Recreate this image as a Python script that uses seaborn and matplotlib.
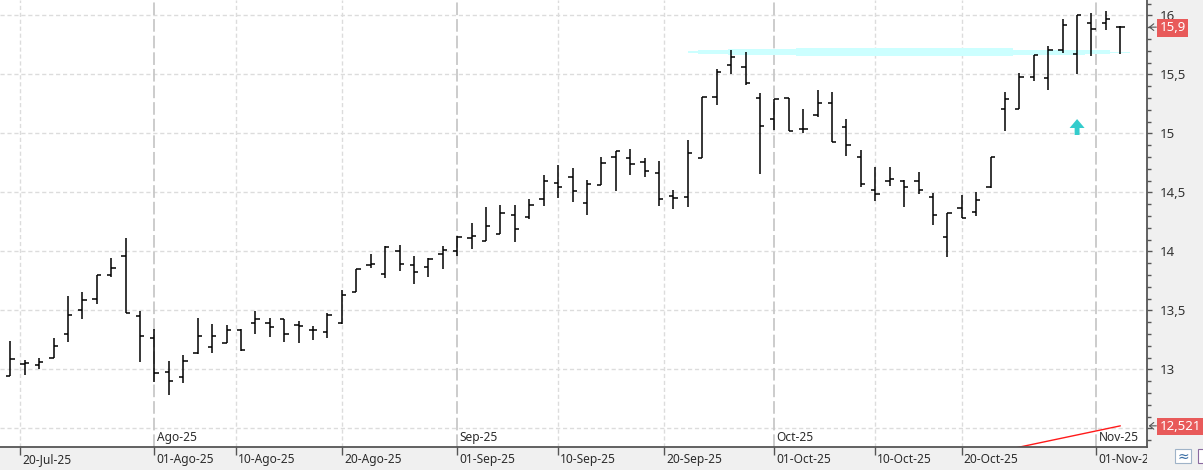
import numpy as np
import pandas as pd
import matplotlib
matplotlib.use("Agg")
import matplotlib.pyplot as plt
import seaborn as sns
from matplotlib.patches import Rectangle, Polygon
from matplotlib.transforms import blended_transform_factory, Bbox, TransformedBbox
import matplotlib.ticker as mticker

# ---------------- data ----------------
start_date = "2025-07-17"
opens = [12.90, 12.946, 13.042, 13.034, 13.093, 13.299, 13.500, 13.593, 13.799, 13.958,
         13.454, 13.263, 12.977, 12.932, 13.141, 13.186, 13.223, 13.333, 13.390, 13.390,
         13.424, 13.375, 13.331, 13.314, 13.395, 13.658, 13.881, 13.805, 14.000, 13.881,
         13.867, 13.975, 14.003, 14.110, 14.085, 14.149, 14.305, 14.293, 14.441, 14.576,
         14.627, 14.409, 14.559, 14.797, 14.791, 14.754, 14.661, 14.469, 14.460, 14.793,
         15.305, 15.579, 15.559, 15.297, 15.119, 15.299, 15.039, 15.155, 15.254, 15.051,
         14.797, 14.519, 14.596, 14.598, 14.596, 14.458, 14.121, 14.367, 14.331, 14.548,
         15.206, 15.206, 15.475, 15.466, 15.703, 15.672, 15.932, 15.932, 15.90]
highs = [12.95, 13.240, 13.079, 13.093, 13.263, 13.621, 13.655, 13.799, 13.941, 14.110,
         13.494, 13.339, 13.070, 13.121, 13.432, 13.384, 13.375, 13.339, 13.494, 13.432,
         13.424, 13.409, 13.367, 13.475, 13.672, 13.850, 13.975, 14.042, 14.051, 13.958,
         13.941, 14.045, 14.130, 14.240, 14.376, 14.392, 14.392, 14.441, 14.647, 14.731,
         14.703, 14.604, 14.797, 14.850, 14.867, 14.788, 14.763, 14.522, 14.943, 15.305,
         15.545, 15.706, 15.689, 15.344, 15.288, 15.302, 15.206, 15.367, 15.350, 15.119,
         14.858, 14.712, 14.712, 14.604, 14.672, 14.497, 14.322, 14.477, 14.503, 14.802,
         15.350, 15.511, 15.664, 15.740, 15.969, 16.003, 16.020, 16.036, 15.909]
lows = [12.80, 12.946, 12.952, 13.003, 13.093, 13.234, 13.429, 13.556, 13.785, 13.475,
        13.064, 12.895, 12.782, 12.887, 13.127, 13.141, 13.223, 13.158, 13.302, 13.270,
        13.234, 13.220, 13.251, 13.268, 13.381, 13.658, 13.861, 13.776, 13.836, 13.723,
        13.785, 13.850, 13.963, 14.020, 14.085, 14.149, 14.081, 14.276, 14.386, 14.454,
        14.420, 14.310, 14.559, 14.514, 14.649, 14.627, 14.384, 14.356, 14.378, 14.788,
        15.240, 15.503, 15.407, 14.655, 15.028, 15.017, 15.005, 15.136, 14.924, 14.810,
        14.548, 14.429, 14.556, 14.378, 14.488, 14.226, 13.954, 14.282, 14.302, 14.534,
        15.022, 15.206, 15.446, 15.370, 15.683, 15.505, 15.658, 15.878, 15.675]
closes = [12.84, 13.087, 13.053, 13.059, 13.195, 13.460, 13.585, 13.799, 13.856, 13.475,
          13.280, 12.969, 12.901, 13.070, 13.280, 13.280, 13.331, 13.166, 13.424, 13.356,
          13.297, 13.367, 13.331, 13.460, 13.627, 13.850, 13.895, 14.037, 13.890, 13.822,
          13.935, 14.011, 14.121, 14.132, 14.212, 14.322, 14.187, 14.390, 14.593, 14.542,
          14.508, 14.570, 14.746, 14.850, 14.737, 14.678, 14.443, 14.449, 14.836, 15.305,
          15.517, 15.649, 15.424, 15.064, 15.288, 15.017, 15.039, 15.254, 14.924, 14.898,
          14.573, 14.483, 14.610, 14.542, 14.517, 14.305, 14.322, 14.282, 14.432, 14.797,
          15.288, 15.475, 15.661, 15.703, 15.915, 16.003, 15.881, 15.966, 15.90]

date_tick_dates = ["2025-07-20", "2025-08-01", "2025-08-10", "2025-08-20", "2025-09-01",
                   "2025-09-10", "2025-09-20", "2025-10-01", "2025-10-10", "2025-10-20",
                   "2025-11-01"]
date_tick_labels = ["20-Jul-25", "01-Ago-25", "10-Ago-25", "20-Ago-25", "01-Sep-25",
                    "10-Sep-25", "20-Sep-25", "01-Oct-25", "10-Oct-25", "20-Oct-25",
                    "01-Nov-25"]
month_dates = ["2025-08-01", "2025-09-01", "2025-10-01", "2025-11-01"]
month_labels = ["Ago-25", "Sep-25", "Oct-25", "Nov-25"]
y_label_values = [13.0, 13.5, 14.0, 14.5, 15.0, 15.5, 16.0]

last_price = 15.9
last_price_label = "15,9"
indicator_x = [68, 78]
indicator_y = [12.264, 12.521]
indicator_label = "12,521"
resistance_level = 15.689
signal_bar = 75
signal_low, signal_high = 14.986, 15.121

# ---------------- style ----------------
sns.set_theme(style="white")
plt.rcParams["font.family"] = ["Noto Sans", "DejaVu Sans"]

W, H = 1203, 470
fig = plt.figure(figsize=(W / 100, H / 100), dpi=100, facecolor="#f0f0f0")
ax_left_px, ax_right_px, ax_bottom_px = 0, 1147, 23.5
ax = fig.add_axes([ax_left_px / W, ax_bottom_px / H,
                   (ax_right_px - ax_left_px) / W, (H - ax_bottom_px) / H])
ax.set_facecolor("white")

dates = pd.bdate_range(start_date, periods=len(closes))
x = np.arange(len(closes))


def date_pos(d):
    d = pd.Timestamp(d)
    i = dates.searchsorted(d)
    if i < len(dates) and dates[i] == d:
        return float(i)
    prev, nxt = dates[i - 1], dates[i]
    return i - 1 + (d - prev).days / (nxt - prev).days


tick_pos = [date_pos(d) for d in date_tick_dates]
month_pos = [date_pos(d) for d in month_dates]

ax.set_xlim(0.284, 79.85)
ax.set_ylim(12.346, 16.13)

# grid
for v in np.arange(12.5, 16.01, 0.5):
    ax.axhline(v, color="#dcdcdc", lw=1.0, ls=(0, (3, 2)), zorder=0)
for p in tick_pos:
    if p not in month_pos:
        ax.axvline(p, color="#dcdcdc", lw=1.0, ls=(0, (3, 2)), zorder=0)
for p in month_pos:
    ax.axvline(p, color="#c8c8c8", lw=1.3, ls=(0, (7, 2.2)), zorder=0)

# resistance highlight band (cyan)
seg_edges = [48.0, 48.7, 50.8, 55.5, 70.55, 75.55, 77.3, 78.67]
seg_half = [0.0085, 0.017, 0.025, 0.031, 0.021, 0.016, 0.0064]
seg_shift = [0.0, 0.0, 0.0, 0.0, 0.0, 0.001, -0.002]
for i in range(len(seg_half)):
    c = resistance_level + seg_shift[i]
    ax.fill_between([seg_edges[i], seg_edges[i + 1]], c - seg_half[i], c + seg_half[i],
                    color="#ccffff", lw=0, zorder=1)

# OHLC bars
tw = 0.3
ax.vlines(x, lows, highs, color="black", lw=1.1, zorder=3)
ax.hlines(opens, x - tw, x, color="black", lw=1.1, zorder=3)
ax.hlines(closes, x, x + tw, color="black", lw=1.1, zorder=3)

# indicator line
sns.lineplot(x=indicator_x, y=indicator_y, ax=ax, color="#ff1a1a", lw=1.0, zorder=2)

# signal arrow
sx = signal_bar
head_base = signal_low + (signal_high - signal_low) * 0.44
arrow = Polygon([(sx - 0.17, signal_low), (sx + 0.17, signal_low), (sx + 0.17, head_base),
                 (sx + 0.52, head_base), (sx, signal_high), (sx - 0.52, head_base),
                 (sx - 0.17, head_base)], closed=True, fc="#33cccc", ec="none", zorder=4)
ax.add_patch(arrow)

# spines
for s in ["left", "top"]:
    ax.spines[s].set_visible(False)
for s in ["right", "bottom"]:
    ax.spines[s].set_color("#555555")
    ax.spines[s].set_linewidth(1.3)

# y axis on right
ax.yaxis.tick_right()
ax.set_yticks(np.arange(12.5, 16.01, 0.5))
ax.yaxis.set_minor_locator(mticker.MultipleLocator(0.1))


def yfmt(v, p):
    if any(abs(v - lv) < 1e-6 for lv in y_label_values):
        return f"{v:g}".replace(".", ",")
    return ""


ax.yaxis.set_major_formatter(mticker.FuncFormatter(yfmt))
ax.tick_params(axis="y", which="both", left=False, right=True, labelleft=False,
               labelright=True, direction="out", color="#555555", width=1.0)
ax.tick_params(axis="y", which="major", length=3.5, pad=6, labelsize=9.5, labelcolor="#333333")
ax.tick_params(axis="y", which="minor", length=3.0)

# x ticks
ax.set_xticks(tick_pos)
ax.set_xticklabels([])
ax.set_xticks(month_pos, minor=True)
ax.tick_params(axis="x", which="major", bottom=True, direction="out", length=6,
               width=1.0, color="#555555", labelbottom=False)
ax.tick_params(axis="x", which="minor", bottom=True, direction="inout", length=14,
               width=1.0, color="#555555", labelbottom=False)
ax.set_xlabel("")
ax.set_ylabel("")

trans = blended_transform_factory(ax.transData, ax.transAxes)
clip_bb = TransformedBbox(Bbox([[0, 0], [ax_right_px / W, 1]]), fig.transFigure)
for p, lab in zip(tick_pos, date_tick_labels):
    t = ax.annotate(lab, xy=(p, 0), xycoords=trans, xytext=(1.5, -9.3),
                    textcoords="offset points", ha="left", va="center",
                    fontsize=8.6, color="#2b2b2b", annotation_clip=False)
    t.set_clip_on(True)
    t.set_clip_box(clip_bb)
for p, lab in zip(month_pos, month_labels):
    ax.annotate(lab, xy=(p, 0), xycoords=trans, xytext=(1.5, 6.6),
                textcoords="offset points", ha="left", va="center",
                fontsize=8.6, color="#2b2b2b", annotation_clip=False)

# right-side value labels
ytrans = blended_transform_factory(ax.transAxes, ax.transData)
for val, lab in [(last_price, last_price_label), (indicator_y[-1], indicator_label)]:
    ax.annotate(lab, xy=(1, val), xycoords=ytrans, xytext=(9.2, -0.5),
                textcoords="offset points", ha="left", va="center", fontsize=9.5,
                color="white", annotation_clip=False, zorder=6,
                bbox=dict(boxstyle="square,pad=0.18", fc="#e85a5a", ec="none"))
    ax.annotate("", xy=(1.0015, val), xycoords=ytrans, xytext=(5.5, 0),
                textcoords="offset points", annotation_clip=False,
                arrowprops=dict(arrowstyle="->,head_length=0.25,head_width=0.2",
                                color="#555555", lw=0.8, shrinkA=0, shrinkB=0))

# bottom-right icons
fig.patches.append(Rectangle((1175 / W, (H - 463) / H), 16 / W, 14 / H, transform=fig.transFigure,
                             fc="white", ec="#9fb3c8", lw=0.8, zorder=5))
fig.text(1183 / W, (H - 456.5) / H, "≈", ha="center", va="center", fontsize=10,
         color="#3a6ea5", family=["DejaVu Sans"], zorder=7)
fig.patches.append(Rectangle((1198 / W, (H - 463) / H), 16 / W, 14 / H, transform=fig.transFigure,
                             fc="white", ec="#8a6aa0", lw=0.8, zorder=5))

fig.savefig("out.png", dpi=100, facecolor=fig.get_facecolor())
